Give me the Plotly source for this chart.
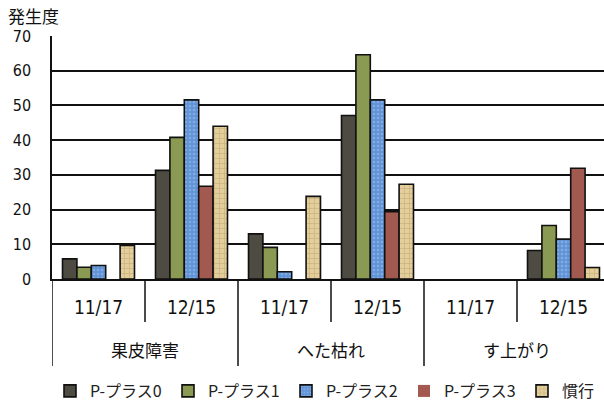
import plotly.graph_objects as go

# Symptom groups and survey dates (one x category per group/date pair)
groups = ["果皮障害", "へた枯れ", "す上がり"]
dates = ["11/17", "12/15"]
categories = [f"{g} {d}" for g in groups for d in dates]
date_labels = [d for g in groups for d in dates]

series_names = ["P-プラス0", "P-プラス1", "P-プラス2", "P-プラス3", "慣行"]
p0 = [5.8, 31.3, 13.0, 47.1, 0, 8.2]
p1 = [3.4, 40.8, 9.1, 64.6, 0, 15.4]
p2 = [3.9, 51.6, 2.1, 51.6, 0, 11.5]
p3 = [0, 26.7, 0, 19.4, 0, 31.9]
kanko = [9.7, 44.0, 23.8, 27.3, 0, 3.3]
series_values = [p0, p1, p2, p3, kanko]

y_ticks = [0, 10, 20, 30, 40, 50, 60, 70]

colors = ["#4e4b43", "#8b9a53", "#6093d8", "#a2594f", "#e4cf9c"]
patterns = [
    dict(shape=""),
    dict(shape=""),
    dict(shape=".", fgcolor="#a6c6ee", size=4, solidity=0.35),
    dict(shape=""),
    dict(shape="+", fgcolor="#b39a63", size=5, solidity=0.3),
]

num_font = "DejaVu Sans Condensed, DejaVu Sans, sans-serif"
jp_font = "Noto Sans CJK JP, sans-serif"

W, H = 604, 403
L, R, T, B = 52, 0, 36, 124
plot_w = W - L - R
plot_h = H - T - B
cat_px = 93  # width of one date category in pixels

fig = go.Figure()
for name, vals, col, pat in zip(series_names, series_values, colors, patterns):
    fig.add_trace(go.Bar(
        name=name,
        x=categories,
        y=vals,
        marker=dict(
            color=col,
            line=dict(color="#111111", width=[1.6 if v > 0 else 0 for v in vals]),
            pattern=pat,
        ),
    ))

def py(px_below_axis):
    """Paper y for a position measured in pixels below the x axis."""
    return -px_below_axis / plot_h

shapes = []
# short separators between the two dates of each group
for gi in range(len(groups)):
    xb = gi * len(dates) + 0.5
    shapes.append(dict(type="line", xref="x", yref="paper", x0=xb, x1=xb,
                       y0=0, y1=py(43), line=dict(color="#111111", width=1.5)))
# long dividers between symptom groups
for gi in range(len(groups) + 1):
    xb = gi * len(dates) - 0.5
    shapes.append(dict(type="line", xref="x", yref="paper", x0=xb, x1=xb,
                       y0=0, y1=py(87), line=dict(color="#111111", width=1.5)))

annotations = [
    dict(text="発生度", xref="paper", yref="paper",
         x=(6 - L) / plot_w, y=1 + (T - 15) / plot_h,
         xanchor="left", yanchor="middle", showarrow=False,
         font=dict(family=jp_font, size=17, color="#111111")),
]
for gi, g in enumerate(groups):
    annotations.append(dict(
        text=g, xref="x", yref="paper",
        x=gi * len(dates) + 0.5, y=py(70),
        xanchor="center", yanchor="middle", showarrow=False,
        font=dict(family=jp_font, size=17, color="#111111")))

fig.update_layout(
    width=W,
    height=H,
    margin=dict(l=L, r=R, t=T, b=B, autoexpand=False),
    paper_bgcolor="white",
    plot_bgcolor="white",
    barmode="group",
    bargap=0.226,
    bargroupgap=0,
    showlegend=True,
    legend=dict(
        orientation="h",
        x=(50 - L) / plot_w,
        xanchor="left",
        y=py(112),
        yanchor="middle",
        font=dict(family=jp_font, size=16, color="#222222"),
        itemwidth=30,
        entrywidth=73,
    ),
    shapes=shapes,
    annotations=annotations,
)

fig.update_yaxes(
    range=[0, 70],
    tickvals=y_ticks,
    ticktext=[str(v) for v in y_ticks],
    showgrid=True,
    gridcolor="#111111",
    gridwidth=1.5,
    showline=True,
    linecolor="#111111",
    linewidth=1.5,
    zeroline=False,
    ticks="",
    ticklabelstandoff=16,
    automargin=False,
    tickfont=dict(family=num_font, size=16, color="#111111"),
)

fig.update_xaxes(
    type="category",
    range=[-0.5, -0.5 + plot_w / cat_px],
    tickvals=categories,
    ticktext=date_labels,
    showline=True,
    linecolor="#111111",
    linewidth=2,
    showgrid=False,
    ticks="",
    ticklabelstandoff=10,
    automargin=False,
    tickfont=dict(family=num_font, size=19, color="#111111"),
)

fig.write_html("out.html")
